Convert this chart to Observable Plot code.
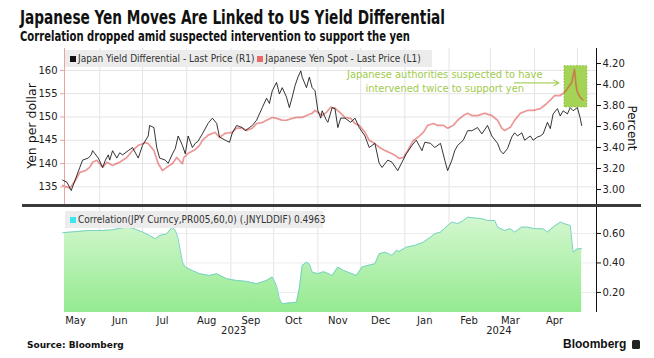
<!DOCTYPE html>
<html>
<head>
<meta charset="utf-8">
<script src="https://cdn.jsdelivr.net/npm/d3@7"></script>
<script src="https://cdn.jsdelivr.net/npm/@observablehq/plot@0.6"></script>
<style>
  html, body { margin: 0; padding: 0; background: #fff; }
  #wrap { position: relative; width: 654px; height: 358px; overflow: hidden; background: #fff; }
  .layer { position: absolute; left: 0; top: 0; }
  .narrow { font-family: "Liberation Sans Narrow", "DejaVu Sans Condensed", "Liberation Sans", sans-serif; }
  #title { position: absolute; left: 20px; top: 8px; font-weight: bold; font-size: 19px; line-height: 19px; color: #111; white-space: nowrap; transform-origin: 0 0; }
  #subtitle { position: absolute; left: 20px; top: 29px; font-weight: bold; font-size: 14.5px; line-height: 15px; color: #111; white-space: nowrap; transform-origin: 0 0; }
  .legend { position: absolute; background: #ececec; color: #333; font-size: 10px; line-height: 17px; white-space: nowrap; padding-left: 5px; }
  .sq { display: inline-block; width: 6px; height: 6px; margin-right: 2px; vertical-align: 0px; }
  .ylab { position: absolute; font-family: "DejaVu Sans", sans-serif; color: #111; white-space: nowrap; }
  #source { position: absolute; left: 27px; top: 340px; font: bold 9px "DejaVu Sans", sans-serif; color: #111; }
  #brand { position: absolute; left: 563px; top: 337px; font: bold 12px "Liberation Sans", Arial, sans-serif; color: #111; white-space: nowrap; }
  #brand .ico { display: inline-block; width: 8px; height: 9px; background: #222; border-radius: 1.5px; margin-left: 6px; vertical-align: -1px; }
</style>
</head>
<body>
<div id="wrap">
  <div id="title" class="narrow">Japanese Yen Moves Are Linked to US Yield Differential</div>
  <div id="subtitle" class="narrow">Correlation dropped amid suspected intervention to support the yen</div>
</div>
<script>
// ---------------- DATA ----------------
// Japanese Yen spot, yen per dollar (left axis, L1)
const yenSpot = [
  ["2023-05-06",135.3],["2023-05-11",134.7],["2023-05-15",136.4],["2023-05-18",138.1],["2023-05-22",138.5],
  ["2023-05-25",139.2],["2023-05-27",140.3],["2023-05-30",140.7],["2023-06-03",139.2],["2023-06-06",140.3],
  ["2023-06-10",139.6],["2023-06-15",140.3],["2023-06-20",141.3],["2023-06-24",142.8],["2023-06-28",143.9],
  ["2023-07-03",144.5],["2023-07-05",144.3],["2023-07-09",142.8],["2023-07-12",140.0],["2023-07-15",138.5],
  ["2023-07-18",139.2],["2023-07-22",140.0],["2023-07-25",141.3],["2023-07-29",140.0],["2023-07-30",141.3],
  ["2023-08-02",142.2],["2023-08-07",143.0],["2023-08-10",143.9],["2023-08-12",145.0],["2023-08-16",146.1],
  ["2023-08-21",146.7],["2023-08-24",145.6],["2023-08-28",146.5],["2023-09-02",146.7],["2023-09-05",147.6],
  ["2023-09-09",147.6],["2023-09-12",147.1],["2023-09-16",147.6],["2023-09-19",148.6],["2023-09-23",148.8],
  ["2023-09-26",149.3],["2023-09-30",149.9],["2023-10-03",149.7],["2023-10-07",149.3],["2023-10-10",149.3],
  ["2023-10-14",149.7],["2023-10-17",149.9],["2023-10-21",149.9],["2023-10-24",150.3],["2023-10-28",150.8],
  ["2023-10-30",151.4],["2023-11-01",151.0],["2023-11-04",150.3],["2023-11-07",151.0],["2023-11-10",152.1],
  ["2023-11-13",151.9],["2023-11-17",150.8],["2023-11-20",149.9],["2023-11-24",149.7],["2023-11-27",148.6],
  ["2023-11-30",148.2],["2023-12-04",146.7],["2023-12-07",145.0],["2023-12-11",144.3],["2023-12-14",143.5],
  ["2023-12-18",142.8],["2023-12-21",142.4],["2023-12-25",141.8],["2023-12-28",141.1],["2023-12-31",141.3],
  ["2024-01-03",142.8],["2024-01-07",145.0],["2024-01-10",145.6],["2024-01-14",146.7],["2024-01-17",148.2],
  ["2024-01-21",148.6],["2024-01-24",148.2],["2024-01-28",148.2],["2024-01-31",147.6],["2024-02-04",148.2],
  ["2024-02-07",149.3],["2024-02-11",150.3],["2024-02-14",150.8],["2024-02-17",150.3],["2024-02-21",150.3],
  ["2024-02-26",150.8],["2024-03-02",150.3],["2024-03-06",149.3],["2024-03-09",147.6],["2024-03-11",147.1],
  ["2024-03-15",147.8],["2024-03-18",149.3],["2024-03-22",150.8],["2024-03-27",151.4],["2024-03-31",151.4],
  ["2024-04-05",151.8],["2024-04-08",152.5],["2024-04-12",153.6],["2024-04-15",154.6],["2024-04-19",154.6],
  ["2024-04-22",155.3],["2024-04-24",156.1],["2024-04-27",157.4],["2024-04-29",160.2],["2024-04-30",157.0],
  ["2024-05-01",155.3],["2024-05-03",154.2],["2024-05-05",153.6]
];
// Japan yield differential, percent (right axis, R1)
const yieldDiff = [
  ["2023-05-06",3.09],["2023-05-09",3.07],["2023-05-12",2.99],["2023-05-15",3.10],["2023-05-18",3.21],
  ["2023-05-20",3.28],["2023-05-24",3.30],["2023-05-26",3.33],["2023-05-27",3.37],["2023-05-31",3.30],
  ["2023-06-03",3.21],["2023-06-05",3.28],["2023-06-07",3.33],["2023-06-08",3.28],["2023-06-10",3.37],
  ["2023-06-13",3.30],["2023-06-15",3.35],["2023-06-17",3.33],["2023-06-21",3.37],["2023-06-24",3.40],
  ["2023-06-28",3.30],["2023-07-01",3.42],["2023-07-05",3.51],["2023-07-06",3.61],["2023-07-09",3.59],
  ["2023-07-11",3.40],["2023-07-13",3.30],["2023-07-17",3.28],["2023-07-19",3.25],["2023-07-22",3.34],
  ["2023-07-24",3.39],["2023-07-26",3.51],["2023-07-29",3.42],["2023-07-31",3.34],["2023-08-02",3.51],
  ["2023-08-05",3.40],["2023-08-07",3.44],["2023-08-09",3.46],["2023-08-12",3.53],["2023-08-16",3.63],
  ["2023-08-19",3.68],["2023-08-22",3.63],["2023-08-24",3.50],["2023-08-28",3.47],["2023-08-31",3.45],
  ["2023-09-02",3.54],["2023-09-05",3.61],["2023-09-09",3.59],["2023-09-11",3.56],["2023-09-14",3.59],
  ["2023-09-16",3.61],["2023-09-19",3.66],["2023-09-21",3.72],["2023-09-23",3.78],["2023-09-26",3.87],
  ["2023-09-28",3.82],["2023-09-30",3.94],["2023-10-03",4.02],["2023-10-05",3.91],["2023-10-07",3.97],
  ["2023-10-10",3.88],["2023-10-12",3.78],["2023-10-14",3.88],["2023-10-16",3.99],["2023-10-18",4.07],
  ["2023-10-20",4.13],["2023-10-21",4.07],["2023-10-24",3.97],["2023-10-26",4.07],["2023-10-28",3.97],
  ["2023-10-30",3.94],["2023-11-01",3.75],["2023-11-03",3.68],["2023-11-04",3.75],["2023-11-07",3.66],
  ["2023-11-08",3.64],["2023-11-11",3.78],["2023-11-13",3.77],["2023-11-15",3.59],["2023-11-17",3.68],
  ["2023-11-20",3.68],["2023-11-24",3.64],["2023-11-27",3.68],["2023-11-30",3.59],["2023-12-04",3.51],
  ["2023-12-07",3.40],["2023-12-11",3.44],["2023-12-14",3.25],["2023-12-16",3.21],["2023-12-20",3.28],
  ["2023-12-23",3.26],["2023-12-27",3.18],["2023-12-30",3.26],["2024-01-02",3.34],["2024-01-06",3.42],
  ["2024-01-09",3.47],["2024-01-13",3.37],["2024-01-15",3.45],["2024-01-19",3.44],["2024-01-22",3.40],
  ["2024-01-26",3.44],["2024-01-29",3.28],["2024-01-31",3.18],["2024-02-03",3.28],["2024-02-05",3.37],
  ["2024-02-07",3.42],["2024-02-11",3.47],["2024-02-14",3.56],["2024-02-17",3.56],["2024-02-21",3.59],
  ["2024-02-24",3.53],["2024-02-28",3.61],["2024-03-02",3.51],["2024-03-06",3.44],["2024-03-08",3.37],
  ["2024-03-10",3.34],["2024-03-13",3.39],["2024-03-16",3.50],["2024-03-18",3.54],["2024-03-20",3.51],
  ["2024-03-23",3.54],["2024-03-25",3.47],["2024-03-29",3.51],["2024-03-31",3.47],["2024-04-03",3.50],
  ["2024-04-05",3.51],["2024-04-07",3.53],["2024-04-10",3.64],["2024-04-12",3.58],["2024-04-14",3.72],
  ["2024-04-17",3.77],["2024-04-19",3.70],["2024-04-21",3.75],["2024-04-24",3.72],["2024-04-26",3.78],
  ["2024-04-28",3.75],["2024-05-01",3.78],["2024-05-03",3.68],["2024-05-04",3.61]
];
// 60-day correlation (bottom panel)
const correlation = [
  ["2023-05-06",0.605],["2023-05-12",0.61],["2023-05-24",0.62],["2023-06-03",0.62],["2023-06-10",0.625],
  ["2023-06-20",0.643],["2023-06-24",0.636],["2023-07-01",0.61],["2023-07-06",0.586],["2023-07-10",0.564],
  ["2023-07-13",0.586],["2023-07-18",0.598],["2023-07-22",0.643],["2023-07-24",0.62],["2023-07-26",0.564],
  ["2023-07-29",0.405],["2023-07-31",0.372],["2023-08-05",0.349],["2023-08-10",0.327],["2023-08-17",0.315],
  ["2023-08-22",0.327],["2023-08-29",0.293],["2023-09-05",0.281],["2023-09-12",0.275],["2023-09-19",0.259],
  ["2023-09-26",0.281],["2023-09-30",0.304],["2023-10-03",0.247],["2023-10-05",0.157],["2023-10-07",0.123],
  ["2023-10-13",0.13],["2023-10-17",0.134],["2023-10-19",0.227],["2023-10-21",0.383],["2023-10-24",0.405],
  ["2023-10-26",0.394],["2023-10-28",0.338],["2023-11-01",0.327],["2023-11-04",0.338],["2023-11-06",0.338],
  ["2023-11-11",0.315],["2023-11-15",0.372],["2023-11-19",0.349],["2023-11-25",0.327],["2023-11-28",0.315],
  ["2023-12-02",0.372],["2023-12-06",0.383],["2023-12-11",0.394],["2023-12-14",0.462],["2023-12-18",0.473],
  ["2023-12-23",0.451],["2023-12-26",0.485],["2023-12-28",0.478],["2024-01-02",0.507],["2024-01-08",0.519],
  ["2024-01-14",0.541],["2024-01-19",0.575],["2024-01-22",0.598],["2024-01-26",0.609],["2024-01-31",0.654],
  ["2024-02-03",0.677],["2024-02-07",0.666],["2024-02-11",0.688],["2024-02-14",0.71],["2024-02-20",0.704],
  ["2024-02-24",0.70],["2024-02-28",0.688],["2024-03-04",0.688],["2024-03-06",0.643],["2024-03-11",0.62],
  ["2024-03-15",0.632],["2024-03-18",0.609],["2024-03-23",0.643],["2024-03-27",0.643],["2024-04-01",0.632],
  ["2024-04-07",0.632],["2024-04-10",0.609],["2024-04-14",0.643],["2024-04-19",0.677],["2024-04-22",0.666],
  ["2024-04-26",0.654],["2024-04-28",0.473],["2024-05-01",0.496],["2024-05-04",0.496]
];
// Axis ticks and labels
const yenTicks = [135, 140, 145, 150, 155, 160];
const pctTicks = [3.0, 3.2, 3.4, 3.6, 3.8, 4.0, 4.2];
const corrTicks = [0.2, 0.4, 0.6];
const monthStarts = ["2023-06-01","2023-07-01","2023-08-01","2023-09-01","2023-10-01","2023-11-01","2023-12-01",
                     "2024-01-01","2024-02-01","2024-03-01","2024-04-01","2024-05-01"];
const monthLabelDates = ["2023-05-15","2023-06-15","2023-07-15","2023-08-15","2023-09-15","2023-10-15","2023-11-15",
                         "2023-12-15","2024-01-15","2024-02-15","2024-03-15","2024-04-15"];
const yearLabels = [["2023-09-03","2023"],["2024-03-07","2024"]];
// Annotation: suspected intervention window
const interventionBox = [["2024-04-22","2024-05-08",152.06,160.9]];
const annotationLines = [["2024-01-29",159.1,"Japanese authorities suspected to have"],
                         ["2024-01-29",156.2,"intervened twice to support yen"]];
const annotationArrow = [["2024-03-18","2024-04-18",157.3]];

// ---------------- CHART ----------------
const W = 654, H = 358;
const dt = s => new Date(s + (s.length === 10 ? "T00:00:00Z" : ""));
const xDomain = [dt("2023-05-07T07:00:00Z"), dt("2024-05-14T10:00:00Z")];
const yen = yenSpot.map(([d, v]) => ({date: dt(d), v}));
const yld = yieldDiff.map(([d, v]) => ({date: dt(d), v}));
const cor = correlation.map(([d, v]) => ({date: dt(d), v}));
const months = monthStarts.map(dt);
const FONT = "DejaVu Sans, sans-serif";
const NARROW = "Liberation Sans Narrow, DejaVu Sans Condensed, Liberation Sans, sans-serif";
const common = {width: W, height: H, marginLeft: 64, marginRight: 58,
  style: {background: "transparent", fontFamily: FONT, fontSize: "10px", color: "#222", overflow: "visible"}};

// Layer A: yen spot (left axis), grid, annotation box
const plotA = Plot.plot({
  ...common, marginTop: 48, marginBottom: H - 205,
  x: {type: "utc", domain: xDomain, axis: null},
  y: {domain: [131.0, 164.7], axis: null, label: null},
  marks: [
    Plot.gridY(yenTicks, {stroke: "#e4e4e4", strokeOpacity: 1}),
    Plot.gridX(months, {stroke: "#e4e4e4", strokeOpacity: 1}),
    Plot.rect(interventionBox, {x1: d => dt(d[0]), x2: d => dt(d[1]), y1: d => d[2], y2: d => d[3],
      fill: "#a4d356", stroke: "#86c03a", strokeWidth: 1, strokeDasharray: "1.5,1.5"}),
    Plot.line(yen, {x: "date", y: "v", stroke: "#dc4040", strokeOpacity: 0.55, strokeWidth: 1.7, strokeDasharray: "2.5,0.7"}),
    Plot.ruleX([xDomain[0]], {stroke: "#e9a3a3"}),
    Plot.axisY(yenTicks, {anchor: "left", tickSize: 4, tickPadding: 3, stroke: "#e9a3a3", fill: "#222", label: null})
  ]
});

// Layer B: yield differential (right axis)
const plotB = Plot.plot({
  ...common, marginTop: 48, marginBottom: H - 205,
  x: {type: "utc", domain: xDomain, axis: null},
  y: {domain: [2.848, 4.343], axis: null, label: null},
  marks: [
    Plot.line(yld, {x: "date", y: "v", stroke: "#111", strokeWidth: 0.85}),
    Plot.ruleX([xDomain[1]], {stroke: "#111"}),
    Plot.axisY(pctTicks, {anchor: "right", tickSize: 4, tickPadding: 2, stroke: "#111", fill: "#222",
      tickFormat: d3.format(".2f"), label: null})
  ]
});

// Annotation layer uses the yen scale
const plotN = Plot.plot({
  ...common, marginTop: 48, marginBottom: H - 205,
  x: {type: "utc", domain: xDomain, axis: null},
  y: {domain: [131.0, 164.7], axis: null, label: null},
  marks: [
    Plot.text(annotationLines, {x: d => dt(d[0]), y: d => d[1], text: d => d[2], fill: "#9fcb4e",
      fontSize: 11, fontFamily: NARROW, textAnchor: "middle"}),
    Plot.arrow(annotationArrow, {x1: d => dt(d[0]), x2: d => dt(d[1]), y1: d => d[2], y2: d => d[2],
      stroke: "#9fcb4e", strokeWidth: 1.2, strokeDasharray: "1,1.2", headLength: 7})
  ]
});

// Layer C: correlation panel + x axis
const plotC = Plot.plot({
  ...common, marginTop: 207, marginBottom: H - 312,
  x: {type: "utc", domain: xDomain, axis: null},
  y: {domain: [0.064, 0.776], axis: null, label: null},
  marks: [
    () => {
      const defs = d3.create("svg:defs");
      const g = defs.append("linearGradient").attr("id", "corrGrad").attr("x1", 0).attr("x2", 0).attr("y1", 0).attr("y2", 1);
      g.append("stop").attr("offset", "0%").attr("stop-color", "#d4f7cf");
      g.append("stop").attr("offset", "100%").attr("stop-color", "#8ee98a");
      return defs.node();
    },
    Plot.gridX(months, {stroke: "#e4e4e4", strokeOpacity: 1}),
    Plot.gridY(corrTicks, {stroke: "#ececec", strokeOpacity: 1}),
    Plot.areaY(cor, {x: "date", y: "v", fill: "url(#corrGrad)", clip: true}),
    Plot.line(cor, {x: "date", y: "v", stroke: "#78d2c6", strokeWidth: 1}),
    Plot.ruleX([xDomain[1]], {stroke: "#111", y1: 0.064, y2: 0.80}),
    Plot.axisY(corrTicks, {anchor: "right", tickSize: 4, tickPadding: 2, stroke: "#111", fill: "#222",
      tickFormat: d3.format(".2f"), label: null}),
    Plot.axisX(monthLabelDates.map(dt), {anchor: "bottom", tickSize: 0, tickPadding: 4, fill: "#222",
      tickFormat: d3.utcFormat("%b"), fontSize: 10, label: null}),
    Plot.text(yearLabels, {x: d => dt(d[0]), text: d => d[1], frameAnchor: "bottom", dy: 21, fill: "#222", fontSize: 10})
  ]
});

const wrap = document.getElementById("wrap");
for (const p of [plotA, plotB, plotC, plotN]) {
  p.classList.add("layer");
  p.style.position = "absolute";
  p.style.left = "0px"; p.style.top = "0px";
  wrap.appendChild(p);
}

function addDiv(html, cls, style) {
  const el = document.createElement("div");
  el.className = cls; el.innerHTML = html;
  Object.assign(el.style, style);
  wrap.appendChild(el);
  return el;
}
addDiv('<span class="sq" style="background:#111"></span>Japan Yield Differential - Last Price (R1) <span class="sq" style="background:#e86a6a"></span>Japanese Yen Spot - Last Price (L1)',
  "legend narrow", {left: "65px", top: "50px", width: "362px", height: "17px"});
addDiv('<span class="sq" style="background:#3ce6ee"></span>Correlation(JPY Curncy,PR005,60,0) (.JNYLDDIF) 0.4963',
  "legend narrow", {left: "65px", top: "211px", width: "253px", height: "17px"});
addDiv("", "", {position: "absolute", left: "22px", top: "204px", width: "619px", height: "3px", background: "#3a3a3a"});
addDiv("Yen per dollar", "ylab", {left: "31px", top: "126px", fontSize: "12.5px", transform: "translate(-50%,-50%) rotate(-90deg)"});
addDiv("Percent", "ylab", {left: "632px", top: "128px", fontSize: "12px", transform: "translate(-50%,-50%) rotate(90deg)"});
addDiv("Source: Bloomberg", "", {}).id = "source";
addDiv('Bloomberg<span class="ico"></span>', "", {}).id = "brand";

// Fit title and subtitle to the reference's text widths
function fit(id, target) {
  const el = document.getElementById(id);
  const w = el.getBoundingClientRect().width;
  if (w > 0) el.style.transform = `scaleX(${target / w})`;
}
fit("title", 425);
fit("subtitle", 390);
</script>
</body>
</html>
